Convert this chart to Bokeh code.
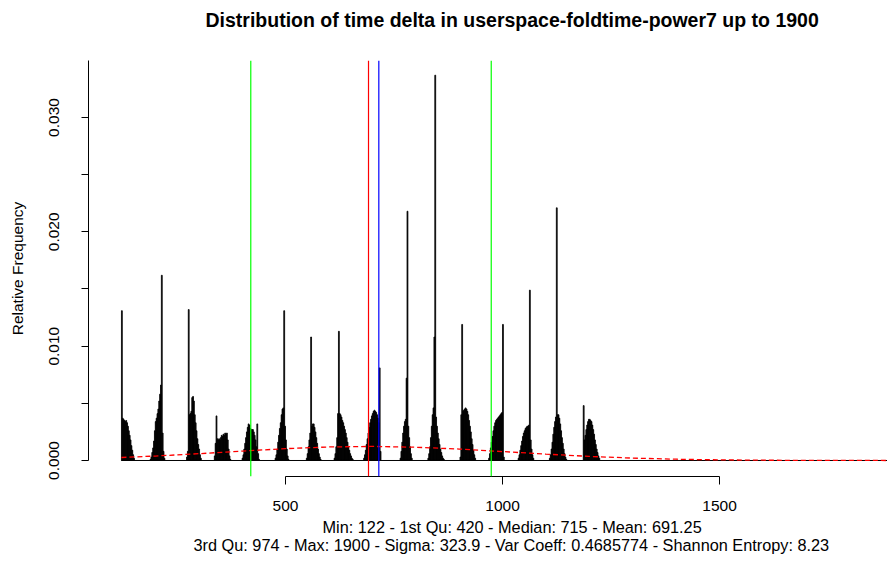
from bokeh.plotting import figure
from bokeh.models import Range1d, FixedTicker, Span, Title, LinearAxis, ColumnDataSource
from bokeh.embed import file_html
from bokeh.resources import INLINE

TITLE = "Distribution of time delta in userspace-foldtime-power7 up to 1900"
Y_LABEL = "Relative Frequency"

# histogram: clusters of bins (bin width 2), start value of each cluster and relative frequencies
BIN_WIDTH = 2
cluster_starts = [122, 188, 272, 336, 400, 476, 548, 612, 680, 764, 828, 902, 968, 1036, 1108, 1186]
cluster_heights = [
    [0.0131, 0.0037, 0.0036, 0.0035, 0.0034, 0.0035, 0.0033, 0.0030, 0.0026, 0.0022, 0.0018, 0.0013, 0.0009, 0.0005, 0.0002],
    [0.0001, 0.0003, 0.0007, 0.0011, 0.0017, 0.0026, 0.0034, 0.0037, 0.0041, 0.0045, 0.0052, 0.0058, 0.0066, 0.0162, 0.0024, 0.0008, 0.0002],
    [0.0003, 0.0008, 0.0132, 0.0040, 0.0041, 0.0043, 0.0055, 0.0056, 0.0052, 0.0040, 0.0033, 0.0026, 0.0019, 0.0014, 0.0010, 0.0005, 0.0002],
    [0.0004, 0.0015, 0.0039, 0.0019, 0.0018, 0.0019, 0.0018, 0.0020, 0.0022, 0.0021, 0.0023, 0.0022, 0.0024, 0.0023, 0.0024, 0.0018, 0.0010, 0.0004, 0.0001],
    [0.0002, 0.0005, 0.0010, 0.0015, 0.0020, 0.0025, 0.0029, 0.0032, 0.0031, 0.0028, 0.0027, 0.0027, 0.0027, 0.0025, 0.0022, 0.0018, 0.0012, 0.0032, 0.0006, 0.0001],
    [0.0002, 0.0005, 0.0010, 0.0016, 0.0022, 0.0028, 0.0033, 0.0040, 0.0045, 0.0046, 0.0131, 0.0030, 0.0018, 0.0010, 0.0004, 0.0001],
    [0.0002, 0.0006, 0.0012, 0.0018, 0.0024, 0.0108, 0.0030, 0.0032, 0.0032, 0.0029, 0.0025, 0.0020, 0.0015, 0.0010, 0.0006, 0.0003, 0.0001],
    [0.0002, 0.0006, 0.0012, 0.0020, 0.0041, 0.0113, 0.0041, 0.0040, 0.0038, 0.0035, 0.0033, 0.0030, 0.0027, 0.0024, 0.0020, 0.0016, 0.0012, 0.0009, 0.0006, 0.0004, 0.0002, 0.0001],
    [0.0002, 0.0005, 0.0009, 0.0014, 0.0019, 0.0024, 0.0029, 0.0033, 0.0036, 0.0039, 0.0041, 0.0043, 0.0044, 0.0043, 0.0042, 0.0040, 0.0037, 0.0033, 0.0081, 0.0008],
    [0.0002, 0.0008, 0.0016, 0.0024, 0.0030, 0.0034, 0.0036, 0.0072, 0.0218, 0.0030, 0.0020, 0.0012, 0.0006, 0.0002],
    [0.0002, 0.0006, 0.0012, 0.0020, 0.0030, 0.0040, 0.0046, 0.0108, 0.0337, 0.0038, 0.0030, 0.0024, 0.0019, 0.0014, 0.0010, 0.0007, 0.0004, 0.0002, 0.0001],
    [0.0003, 0.0040, 0.0119, 0.0043, 0.0044, 0.0045, 0.0046, 0.0045, 0.0043, 0.0040, 0.0035, 0.0030, 0.0025, 0.0019, 0.0014, 0.0009, 0.0005, 0.0002],
    [0.0002, 0.0006, 0.0011, 0.0016, 0.0021, 0.0026, 0.0030, 0.0033, 0.0035, 0.0036, 0.0037, 0.0038, 0.0039, 0.0040, 0.0041, 0.0042, 0.0119, 0.0003],
    [0.0002, 0.0005, 0.0009, 0.0013, 0.0017, 0.0021, 0.0024, 0.0026, 0.0028, 0.0029, 0.0030, 0.0030, 0.0031, 0.0149, 0.0018, 0.0010, 0.0005, 0.0002],
    [0.0002, 0.0005, 0.0010, 0.0016, 0.0023, 0.0029, 0.0034, 0.0038, 0.0221, 0.0040, 0.0040, 0.0037, 0.0032, 0.0026, 0.0020, 0.0015, 0.0010, 0.0006, 0.0003, 0.0001],
    [0.0048, 0.0018, 0.0022, 0.0027, 0.0031, 0.0034, 0.0036, 0.0036, 0.0035, 0.0034, 0.0031, 0.0027, 0.0023, 0.0018, 0.0014, 0.0010, 0.0007, 0.0004, 0.0002],
]

# summary statistics
stat_min = 122
stat_q1 = 420
stat_median = 715
stat_mean = 691.25
stat_q3 = 974
stat_max = 1900
stat_sigma = 323.9
stat_varcoeff = 0.4685774
stat_entropy = 8.23

# red dashed density curve
curve_x = [122, 200, 300, 400, 500, 600, 700, 800, 900, 1000, 1100, 1200, 1300, 1400, 1500, 1600, 1700, 1800, 1900]
curve_y = [0.000263, 0.000390, 0.000594, 0.000822, 0.001035, 0.001184, 0.001231, 0.001160, 0.001001, 0.000782,
           0.000555, 0.000358, 0.000210, 0.000112, 0.000054, 0.000024, 0.000010, 0.000004, 0.000001]

x_ticks = [500, 1000, 1500]
y_ticks = [0.0, 0.005, 0.01, 0.015, 0.02, 0.025, 0.03, 0.035]
y_tick_labels = ["0.000", "", "0.010", "", "0.020", "", "0.030", ""]

FONT = "Liberation Sans"

lefts, rights, tops = [], [], []
for start, heights in zip(cluster_starts, cluster_heights):
    for i, h in enumerate(heights):
        lefts.append(start + BIN_WIDTH * i)
        rights.append(start + BIN_WIDTH * (i + 1))
        tops.append(h)
src = ColumnDataSource(dict(left=lefts, right=rights, top=tops, bottom=[0.0] * len(tops)))

p = figure(width=887, height=561, output_backend="svg", toolbar_location=None,
           x_range=Range1d(46.1, 1887), y_range=Range1d(-0.0014, 0.034985),
           x_axis_type=None, y_axis_type=None,
           min_border_left=88, min_border_right=0, min_border_top=60, min_border_bottom=85)
p.outline_line_color = None
p.background_fill_color = "white"
p.border_fill_color = "white"

xaxis = LinearAxis(ticker=FixedTicker(ticks=x_ticks), bounds=(x_ticks[0], x_ticks[-1]))
xaxis.major_tick_in = 0
xaxis.major_tick_out = 8
xaxis.minor_tick_out = 0
xaxis.major_label_standoff = 16
xaxis.major_label_text_font = FONT
xaxis.major_label_text_font_size = "15.5px"
xaxis.major_label_text_color = "black"
xaxis.axis_line_color = "black"
xaxis.major_tick_line_color = "black"
p.add_layout(xaxis, "below")

yaxis = LinearAxis(ticker=FixedTicker(ticks=y_ticks), bounds=(y_ticks[0], y_ticks[-1]),
                   major_label_overrides={t: lab for t, lab in zip(y_ticks, y_tick_labels)})
yaxis.major_label_orientation = "vertical"
yaxis.major_tick_in = 0
yaxis.major_tick_out = 7
yaxis.minor_tick_out = 0
yaxis.major_label_standoff = 22
yaxis.major_label_text_font = FONT
yaxis.major_label_text_font_size = "15.5px"
yaxis.major_label_text_color = "black"
yaxis.axis_label = Y_LABEL
yaxis.axis_label_standoff = 21
yaxis.axis_label_text_font = FONT
yaxis.axis_label_text_font_size = "15.5px"
yaxis.axis_label_text_font_style = "normal"
yaxis.axis_label_text_color = "black"
yaxis.axis_line_color = "black"
yaxis.major_tick_line_color = "black"
p.add_layout(yaxis, "left")

# invisible spacer between the frame and the title: one hidden tick, empty label, no line
spacer = LinearAxis(ticker=FixedTicker(ticks=[x_ticks[1]]), bounds=(x_ticks[1], x_ticks[1]),
                    major_label_overrides={x_ticks[1]: ""})
spacer.axis_line_color = None
spacer.major_tick_line_color = None
spacer.major_tick_in = 0
spacer.major_tick_out = 28
spacer.minor_tick_out = 0
spacer.major_label_standoff = 0
spacer.major_label_text_font_size = "1px"
p.add_layout(spacer, "above")

p.quad(left="left", right="right", top="top", bottom="bottom", source=src,
       fill_color="black", line_color="black", line_width=0.8)
p.line([stat_min, stat_max], [0, 0], line_color="black", line_width=1)
p.line(curve_x, curve_y, line_color="red", line_dash="5 3", line_width=1.3)

for loc, col in [(stat_q1, "#00FF00"), (stat_mean, "#FF0000"), (stat_median, "#0000FF"), (stat_q3, "#00FF00")]:
    p.add_layout(Span(location=loc, dimension="height", line_color=col, line_width=1.2))

line1 = f"Min: {stat_min} - 1st Qu: {stat_q1} - Median: {stat_median} - Mean: {stat_mean}"
line2 = (f"3rd Qu: {stat_q3} - Max: {stat_max} - Sigma: {stat_sigma} - "
         f"Var Coeff: {stat_varcoeff} - Shannon Entropy: {stat_entropy}")

has_standoff = "standoff" in Title.properties()

t0 = Title(text=TITLE, align="left", offset=117, vertical_align="top",
           text_font=FONT, text_font_size="19.5px", text_font_style="bold", text_color="black")
t1 = Title(text=line1, align="left", offset=234, vertical_align="top",
           text_font=FONT, text_font_size="16.3px", text_font_style="normal", text_color="black")
t2 = Title(text=line2, align="left", offset=105, vertical_align="top",
           text_font=FONT, text_font_size="16.3px", text_font_style="normal", text_color="black")
if has_standoff:
    t0.standoff = 0
    t1.standoff = 8
    t2.standoff = -12

p.add_layout(t0, "above")
p.add_layout(t1, "below")
p.add_layout(t2, "below")

open("out.html", "w").write(file_html(p, INLINE))
